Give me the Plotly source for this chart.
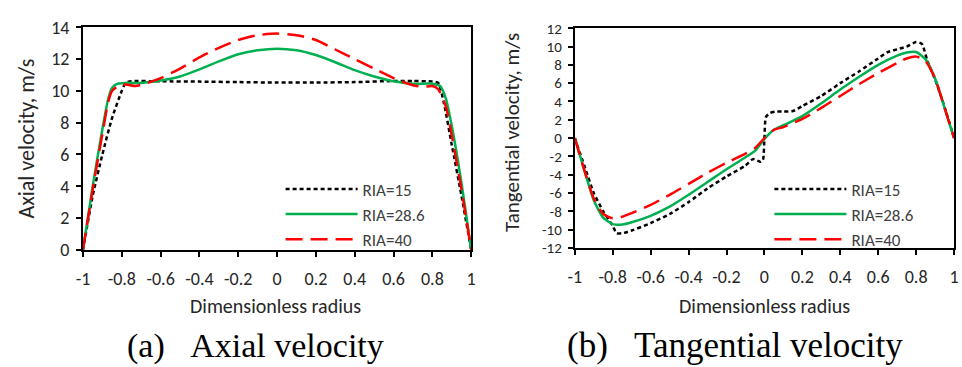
import plotly.graph_objects as go

# ---- data: (a) axial velocity ----
ax_x15 = [-1, -0.95, -0.9, -0.85, -0.8, -0.78, -0.75, -0.6, -0.4, -0.2, 0, 0.2, 0.4, 0.6, 0.7, 0.8, 0.83, 0.86, 0.9, 0.95, 1]
ax_y15 = [0, 3.4, 6.0, 8.3, 10.0, 10.5, 10.6, 10.6, 10.58, 10.55, 10.52, 10.52, 10.55, 10.62, 10.62, 10.58, 10.5, 9.2, 6.6, 3.4, 0]

ax_x28 = [-1, -0.95, -0.9, -0.87, -0.85, -0.82, -0.78, -0.7, -0.6, -0.5, -0.4, -0.3, -0.2, -0.1, 0, 0.1, 0.2, 0.3, 0.4, 0.5, 0.6, 0.7, 0.8, 0.84, 0.87, 0.9, 0.95, 1]
ax_y28 = [0, 4.0, 7.6, 9.5, 10.2, 10.45, 10.5, 10.5, 10.65, 10.9, 11.35, 11.85, 12.3, 12.55, 12.65, 12.55, 12.25, 11.8, 11.3, 10.9, 10.6, 10.45, 10.45, 10.3, 9.5, 7.8, 4.2, 0]

ax_x40 = [-1, -0.95, -0.9, -0.87, -0.85, -0.82, -0.78, -0.73, -0.68, -0.6, -0.5, -0.4, -0.3, -0.2, -0.1, 0, 0.1, 0.2, 0.3, 0.4, 0.5, 0.6, 0.7, 0.75, 0.8, 0.83, 0.87, 0.9, 0.95, 1]
ax_y40 = [0, 3.8, 7.3, 9.3, 10.0, 10.3, 10.4, 10.3, 10.45, 10.8, 11.4, 12.1, 12.7, 13.2, 13.5, 13.6, 13.5, 13.2, 12.6, 12.0, 11.4, 10.8, 10.35, 10.25, 10.3, 10.1, 9.0, 7.2, 3.8, 0]

# ---- data: (b) tangential velocity ----
tg_x15 = [-1, -0.95, -0.9, -0.85, -0.8, -0.78, -0.75, -0.7, -0.6, -0.5, -0.4, -0.3, -0.2, -0.1, -0.06, -0.02, -0.008, 0, 0.008, 0.03, 0.06, 0.1, 0.15, 0.2, 0.3, 0.4, 0.5, 0.6, 0.65, 0.7, 0.75, 0.8, 0.83, 0.86, 0.9, 0.95, 1]
tg_y15 = [0, -3.0, -6.0, -8.0, -9.6, -10.4, -10.4, -10.1, -9.3, -8.3, -7.0, -5.5, -4.2, -3.0, -2.3, -2.6, -2.4, 0, 2.3, 2.75, 2.9, 2.9, 2.95, 3.5, 4.6, 6.0, 7.3, 8.7, 9.4, 9.7, 10.0, 10.5, 10.3, 8.4, 6.4, 3.4, 0]

tg_x28 = [-1, -0.95, -0.9, -0.85, -0.8, -0.75, -0.7, -0.6, -0.5, -0.4, -0.3, -0.2, -0.1, -0.05, 0, 0.05, 0.1, 0.2, 0.3, 0.4, 0.5, 0.6, 0.7, 0.75, 0.8, 0.85, 0.9, 0.95, 1]
tg_y28 = [0, -3.5, -6.8, -8.7, -9.4, -9.45, -9.2, -8.5, -7.5, -6.2, -4.8, -3.4, -2.1, -1.4, -0.1, 0.9, 1.4, 2.4, 3.8, 5.3, 6.7, 8.0, 9.0, 9.35, 9.4, 8.6, 6.5, 3.3, 0]

tg_x40 = [-1, -0.95, -0.9, -0.85, -0.8, -0.75, -0.7, -0.6, -0.5, -0.4, -0.3, -0.2, -0.1, -0.05, 0, 0.05, 0.1, 0.2, 0.3, 0.4, 0.5, 0.6, 0.7, 0.75, 0.8, 0.85, 0.9, 0.95, 1]
tg_y40 = [0, -3.5, -6.6, -8.3, -8.75, -8.6, -8.2, -7.3, -6.2, -5.0, -3.8, -2.7, -1.7, -1.1, 0, 0.9, 1.2, 2.1, 3.3, 4.6, 5.9, 7.1, 8.2, 8.7, 8.9, 8.4, 6.5, 3.3, 0]

series_names = ["RIA=15", "RIA=28.6", "RIA=40"]
x_tickvals = [-1, -0.8, -0.6, -0.4, -0.2, 0, 0.2, 0.4, 0.6, 0.8, 1]
x_ticktext = ["-1", "-0.8", "-0.6", "-0.4", "-0.2", "0", "0.2", "0.4", "0.6", "0.8", "1"]
ya_tickvals = [0, 2, 4, 6, 8, 10, 12, 14]
yb_tickvals = [-12, -10, -8, -6, -4, -2, 0, 2, 4, 6, 8, 10, 12]
yb_ticktext = [str(v) for v in yb_tickvals]
x_title = "Dimensionless radius"
ya_title = "Axial velocity, m/s"
yb_title = "Tangential velocity, m/s"
cap_a = "(a)\u00a0\u00a0\u00a0Axial velocity"
cap_b = "(b)\u00a0\u00a0\u00a0Tangential velocity"

FONT = "Carlito, Calibri, Lato, sans-serif"
SERIF = "Liberation Serif, Times New Roman, serif"
styles = [
    dict(color="#000000", width=2.5, dash="4px,3px"),
    dict(color="#00b050", width=2.5, dash="solid"),
    dict(color="#ff0000", width=2.5, dash="17px,8px"),
]

fig = go.Figure()
for i, (x, y) in enumerate([(ax_x15, ax_y15), (ax_x28, ax_y28), (ax_x40, ax_y40)]):
    fig.add_trace(go.Scatter(x=x, y=y, mode="lines", name=series_names[i],
                             line=dict(shape="spline", smoothing=0.6, **styles[i]),
                             xaxis="x", yaxis="y", legend="legend"))
for i, (x, y) in enumerate([(tg_x15, tg_y15), (tg_x28, tg_y28), (tg_x40, tg_y40)]):
    fig.add_trace(go.Scatter(x=x, y=y, mode="lines", name=series_names[i],
                             line=dict(shape="spline", smoothing=0.6, **styles[i]),
                             xaxis="x2", yaxis="y2", legend="legend2"))

axis_common = dict(showgrid=False, zeroline=False, showline=True, linecolor="black",
                   linewidth=2, mirror=True, ticks="outside", ticklen=5, tickwidth=2,
                   tickcolor="black")
tick18 = dict(family=FONT, size=18, color="#262626")
tick15 = dict(family=FONT, size=15, color="#262626")

def ann(text, x, y, size, family=FONT, angle=0, color="#262626"):
    return dict(text=text, x=x / 962, y=1 - y / 367, xref="paper", yref="paper",
                xanchor="center", yanchor="middle", showarrow=False, textangle=angle,
                font=dict(family=family, size=size, color=color))

fig.update_layout(
    width=962, height=367, margin=dict(l=0, r=0, t=0, b=0),
    paper_bgcolor="white", plot_bgcolor="white",
    font=dict(family=FONT, size=15, color="#262626"),
    xaxis=dict(domain=[0.080, 0.4886], range=[-1, 1], tickvals=x_tickvals, ticktext=x_ticktext,
               anchor="y", ticklabelstandoff=7, tickfont=tick18, **axis_common),
    yaxis=dict(domain=[0.3079, 0.9529], range=[0, 14], tickvals=ya_tickvals, anchor="x",
               ticklabelstandoff=3, tickfont=tick18, **axis_common),
    xaxis2=dict(domain=[0.5977, 0.9969], range=[-1, 1], tickvals=x_tickvals, ticktext=x_ticktext,
                anchor="y2", ticklabelstandoff=7, tickfont=tick18, **axis_common),
    yaxis2=dict(domain=[0.3134, 0.950], range=[-12, 12], tickvals=yb_tickvals, ticktext=yb_ticktext,
                anchor="x2", ticklabelstandoff=3, tickfont=tick15, **axis_common),
    legend=dict(x=0.288, y=0.535, xanchor="left", yanchor="top", bgcolor="rgba(0,0,0,0)",
                font=dict(family=FONT, size=17, color="#404040"), itemwidth=72, tracegroupgap=0),
    legend2=dict(x=0.8025, y=0.535, xanchor="left", yanchor="top", bgcolor="rgba(0,0,0,0)",
                 font=dict(family=FONT, size=17, color="#404040"), itemwidth=72, tracegroupgap=0),
    annotations=[
        ann(x_title, 272, 314, 20),
        ann(x_title, 767, 314, 20),
        ann(ya_title, 20, 136, 22, angle=-90),
        ann(yb_title, 512, 129, 21, angle=-90),
        ann(cap_a, 251.5, 356, 34, family=SERIF, color="black"),
        ann(cap_b, 737.5, 356, 35, family=SERIF, color="black"),
    ],
)

fig.write_html("out.html")
